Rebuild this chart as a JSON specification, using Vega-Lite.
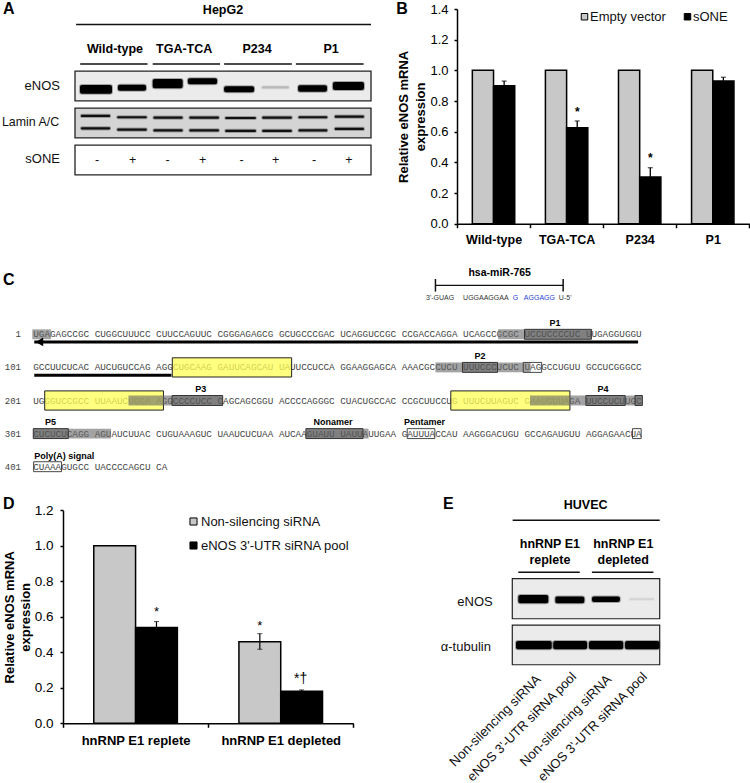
{
"$schema":"https://vega.github.io/schema/vega-lite/v6.json",
"background":"white","padding":0,"autosize":{"type":"pad"},
"config":{"font":"Liberation Sans","view":{"stroke":null},"axis":{"grid":false,"domainColor":"#000","tickColor":"#000","labelColor":"#000","titleColor":"#000"}},
"spacing":0,
"vconcat":[
{"hconcat":[
 {"width":457,"height":262,
  "encoding":{"x":{"field":"lane","type":"quantitative","scale":{"domain":[-2.027,10.324],"nice":false,"zero":false},"axis":null},
              "y":{"field":"row","type":"quantitative","scale":{"domain":[6.784,-0.297],"nice":false,"zero":false},"axis":null}},
  "layer":[
   {"data":{"values":[{"track":"eNOS","lane":0,"lane_to":8,"row":1.6,"row_to":2.4,"density":0.07},{"track":"Lamin A/C","lane":0,"lane_to":8,"row":2.6,"row_to":3.4,"density":0.15},{"track":"sONE","lane":0,"lane_to":8,"row":3.6,"row_to":4.4,"density":0}]},
    "mark":{"type":"rect","stroke":"#222","strokeWidth":1.3},
    "encoding":{"x2":{"field":"lane_to"},"y2":{"field":"row_to"},"color":{"field":"density","type":"quantitative","scale":{"domain":[0,1],"range":["#ffffff","#000000"]},"legend":null}}},
   {"data":{"values":[
     {"lane":0.135,"lane_to":1.0,"row":1.97,"row_to":2.21,"density":1},
     {"lane":1.16,"lane_to":1.92,"row":1.966,"row_to":2.126,"density":1},
     {"lane":2.1,"lane_to":2.91,"row":1.813,"row_to":2.063,"density":1},
     {"lane":3.05,"lane_to":3.84,"row":1.793,"row_to":1.953,"density":1},
     {"lane":4.03,"lane_to":4.84,"row":2.009,"row_to":2.169,"density":1},
     {"lane":5.05,"lane_to":5.78,"row":2.01,"row_to":2.07,"density":0.25},
     {"lane":6.03,"lane_to":6.81,"row":1.978,"row_to":2.158,"density":1},
     {"lane":6.97,"lane_to":7.81,"row":1.89,"row_to":2.11,"density":1},
     {"lane":0.16,"lane_to":0.95,"row":2.78,"row_to":2.84,"density":0.95},
     {"lane":1.14,"lane_to":1.94,"row":2.815,"row_to":2.875,"density":0.95},
     {"lane":2.12,"lane_to":2.91,"row":2.825,"row_to":2.885,"density":0.95},
     {"lane":3.09,"lane_to":3.89,"row":2.825,"row_to":2.885,"density":0.95},
     {"lane":4.06,"lane_to":4.89,"row":2.835,"row_to":2.895,"density":0.95},
     {"lane":5.06,"lane_to":5.86,"row":2.825,"row_to":2.885,"density":0.95},
     {"lane":6.04,"lane_to":6.82,"row":2.815,"row_to":2.875,"density":0.95},
     {"lane":7.02,"lane_to":7.81,"row":2.8,"row_to":2.86,"density":0.95},
     {"lane":0.16,"lane_to":0.95,"row":3.115,"row_to":3.175,"density":0.95},
     {"lane":1.14,"lane_to":1.94,"row":3.15,"row_to":3.21,"density":0.95},
     {"lane":2.12,"lane_to":2.91,"row":3.17,"row_to":3.23,"density":0.95},
     {"lane":3.09,"lane_to":3.89,"row":3.17,"row_to":3.23,"density":0.95},
     {"lane":4.06,"lane_to":4.89,"row":3.185,"row_to":3.245,"density":0.95},
     {"lane":5.06,"lane_to":5.86,"row":3.185,"row_to":3.245,"density":0.95},
     {"lane":6.04,"lane_to":6.82,"row":3.17,"row_to":3.23,"density":0.95},
     {"lane":7.02,"lane_to":7.81,"row":3.13,"row_to":3.19,"density":0.95}
    ]},
    "mark":{"type":"rect","cornerRadius":2,"strokeWidth":2,"strokeOpacity":0.3},
    "encoding":{"x2":{"field":"lane_to"},"y2":{"field":"row_to"},"color":{"field":"density","type":"quantitative","scale":{"domain":[0,1],"range":["#ffffff","#000000"]},"legend":null},"stroke":{"field":"density","type":"quantitative","scale":{"domain":[0,1],"range":["#ffffff","#000000"]},"legend":null}}},
   {"data":{"values":[{"lane":0.03,"lane_to":8,"row":0.34},{"lane":0.14,"lane_to":1.96,"row":1.405},{"lane":2.1,"lane_to":3.92,"row":1.405},{"lane":4.03,"lane_to":5.86,"row":1.405},{"lane":5.97,"lane_to":7.8,"row":1.405}]},
    "mark":{"type":"rule","color":"#111","strokeWidth":1.5},"encoding":{"x2":{"field":"lane_to"}}},
   {"data":{"values":[{"lane":4,"row":-0.06,"label":"HepG2"},{"lane":1.08,"row":1,"label":"Wild-type"},{"lane":2.95,"row":1,"label":"TGA-TCA"},{"lane":4.92,"row":1,"label":"P234"},{"lane":6.92,"row":1,"label":"P1"}]},
    "mark":{"type":"text","fontWeight":"bold","fontSize":12.5,"color":"#000","baseline":"middle"},"encoding":{"text":{"field":"label"}}},
   {"data":{"values":[{"lane":-0.405,"row":2,"label":"eNOS"},{"lane":-0.405,"row":3.98,"label":"sONE"}]},
    "mark":{"type":"text","fontSize":13,"color":"#111","align":"right","baseline":"middle"},"encoding":{"text":{"field":"label"}}},
   {"data":{"values":[{"lane":-0.43,"row":2.97,"label":"Lamin A/C"}]},
    "mark":{"type":"text","fontSize":12.4,"color":"#111","align":"right","baseline":"middle"},"encoding":{"text":{"field":"label"}}},
   {"data":{"values":[{"lane":0.6,"row":4,"sign":"-"},{"lane":1.56,"row":4,"sign":"+"},{"lane":2.5,"row":4,"sign":"-"},{"lane":3.45,"row":4,"sign":"+"},{"lane":4.5,"row":4,"sign":"-"},{"lane":5.42,"row":4,"sign":"+"},{"lane":6.46,"row":4,"sign":"-"},{"lane":7.4,"row":4,"sign":"+"}]},
    "mark":{"type":"text","fontSize":12.5,"color":"#111","baseline":"middle"},"encoding":{"text":{"field":"sign"}}},
   {"data":{"values":[{"lane":-1.946,"row":-0.081,"label":"A"},{"lane":8.68,"row":-0.081,"label":"B"}]},
    "mark":{"type":"text","fontWeight":"bold","fontSize":16,"color":"#000","align":"left","baseline":"middle"},"encoding":{"text":{"field":"label"}}}
  ]},
 {"width":292.3,"height":222.7,
  "encoding":{
     "x":{"field":"construct","type":"nominal","sort":null,"scale":{"paddingInner":0,"paddingOuter":0},
          "axis":{"title":null,"labelAngle":0,"labelFontWeight":"bold","labelFontSize":12.5,"labelPadding":6,"tickSize":4,"tickWidth":1.5,"domainWidth":1.5,"tickBand":"extent"}},
     "y":{"field":"value","type":"quantitative","scale":{"domain":[0,1.4],"range":[222.7,8],"nice":false},
          "axis":{"title":["Relative eNOS mRNA","expression"],"titleFontSize":13,"titleFontWeight":"bold","titleLineHeight":17,"titlePadding":2.5,"values":[0,0.2,0.4,0.6,0.8,1,1.2,1.4],"format":".1f","labelOverlap":false,"labelFontSize":13,"tickSize":3,"tickWidth":1.5,"domainWidth":1.5,"labelPadding":6}}},
  "layer":[
   {"data":{"values":[{"construct":"Wild-type","series":"Empty vector","value":1.0},{"construct":"TGA-TCA","series":"Empty vector","value":1.0},{"construct":"P234","series":"Empty vector","value":1.0},{"construct":"P1","series":"Empty vector","value":1.0}]},
    "mark":{"type":"bar","stroke":"#000","strokeWidth":1.5,"width":21.2,"xOffset":-10.6},
    "encoding":{"color":{"field":"series","type":"nominal","scale":{"domain":["Empty vector","sONE"],"range":["#c8c8c8","#000000"]},
        "legend":{"title":null,"orient":"none","legendX":121,"legendY":9,"direction":"horizontal","columns":2,"symbolType":"square","symbolSize":42,"symbolStrokeColor":"#222","symbolStrokeWidth":1,"labelFontSize":13,"labelColor":"#111","labelOffset":-1,"columnPadding":15}}}},
   {"data":{"name":"bs","values":[{"construct":"Wild-type","series":"sONE","value":0.9,"upper":0.93},{"construct":"TGA-TCA","series":"sONE","value":0.625,"upper":0.67},{"construct":"P234","series":"sONE","value":0.305,"upper":0.365},{"construct":"P1","series":"sONE","value":0.93,"upper":0.955}]},
    "mark":{"type":"bar","stroke":"#000","strokeWidth":1.5,"width":21.2,"xOffset":10.6},
    "encoding":{"color":{"field":"series","type":"nominal"}}},
   {"data":{"name":"bs"},"mark":{"type":"rule","color":"#000","strokeWidth":1.3,"xOffset":10.6},"encoding":{"y2":{"field":"upper"}}},
   {"data":{"name":"bs"},"mark":{"type":"tick","orient":"horizontal","color":"#000","size":5,"thickness":1.2,"xOffset":10.6},"encoding":{"y":{"field":"upper","type":"quantitative"}}},
   {"data":{"values":[{"construct":"TGA-TCA","value":0.74,"mark":"*"},{"construct":"P234","value":0.435,"mark":"*"}]},
    "mark":{"type":"text","fontSize":12,"fontWeight":"bold","color":"#000","baseline":"middle","dy":1.5,"xOffset":10.6},
    "encoding":{"text":{"field":"mark"}}}
  ]}
 ],"spacing":0,"bounds":"flush"},
{"width":750,"height":228,
 "encoding":{"x":{"field":"nt","type":"quantitative","scale":{"domain":[-5.42,116.73],"nice":false,"zero":false},"axis":null},
             "y":{"field":"line","type":"quantitative","scale":{"domain":[5.734,-1.154],"nice":false,"zero":false},"axis":null}},
 "layer":[
  {"data":{"values":[
   {"line":1,"nt":0,"label":"UGAGAGCCGC"},{"line":1,"nt":10,"label":"CUGGCUUUCC"},{"line":1,"nt":20,"label":"CUUCCAGUUC"},{"line":1,"nt":30,"label":"CGGGAGAGCG"},{"line":1,"nt":40,"label":"GCUGCCCGAC"},{"line":1,"nt":50,"label":"UCAGGUCCGC"},{"line":1,"nt":60,"label":"CCGACCAGGA"},{"line":1,"nt":70,"label":"UCAGCCGCGC"},{"line":1,"nt":80,"label":"UCCUCCCCUC"},{"line":1,"nt":90,"label":"UUGAGGUGGU"},
   {"line":2,"nt":0,"label":"GCCUUCUCAC"},{"line":2,"nt":10,"label":"AUCUGUCCAG"},{"line":2,"nt":20,"label":"AGGCUGCAAG"},{"line":2,"nt":30,"label":"GAUUCAGCAU"},{"line":2,"nt":40,"label":"UAUUCCUCCA"},{"line":2,"nt":50,"label":"GGAAGGAGCA"},{"line":2,"nt":60,"label":"AAACGCCUCU"},{"line":2,"nt":70,"label":"UUUCCCUCUC"},{"line":2,"nt":80,"label":"UAGGCCUGUU"},{"line":2,"nt":90,"label":"GCCUCGGGCC"},
   {"line":3,"nt":0,"label":"UGGGUCCGCC"},{"line":3,"nt":10,"label":"UUAAUCUGGA"},{"line":3,"nt":20,"label":"AGGCCCCUCC"},{"line":3,"nt":30,"label":"CAGCAGCGGU"},{"line":3,"nt":40,"label":"ACCCCAGGGC"},{"line":3,"nt":50,"label":"CUACUGCCAC"},{"line":3,"nt":60,"label":"CCGCUUCCUG"},{"line":3,"nt":70,"label":"UUUCUUAGUC"},{"line":3,"nt":80,"label":"GAAUGUUAGA"},{"line":3,"nt":90,"label":"UUCCUCUUGC"},
   {"line":4,"nt":0,"label":"CUCUCUCAGG"},{"line":4,"nt":10,"label":"AGUAUCUUAC"},{"line":4,"nt":20,"label":"CUGUAAAGUC"},{"line":4,"nt":30,"label":"UAAUCUCUAA"},{"line":4,"nt":40,"label":"AUCAAGUAUU"},{"line":4,"nt":50,"label":"UAUUAUUGAA"},{"line":4,"nt":60,"label":"GAUUUACCAU"},{"line":4,"nt":70,"label":"AAGGGACUGU"},{"line":4,"nt":80,"label":"GCCAGAUGUU"},{"line":4,"nt":90,"label":"AGGAGAACUA"},
   {"line":5,"nt":0,"label":"CUAAAGUGCC"},{"line":5,"nt":10,"label":"UACCCCAGCU"},{"line":5,"nt":20,"label":"CA"}]},
   "mark":{"type":"text","font":"Liberation Mono","fontSize":9.3,"color":"#444","align":"left","baseline":"middle"},"encoding":{"text":{"field":"label"}}},
  {"data":{"values":[{"line":1,"nt":-2,"label":"1"},{"line":2,"nt":-2,"label":"101"},{"line":3,"nt":-2,"label":"201"},{"line":4,"nt":-2,"label":"301"},{"line":5,"nt":-2,"label":"401"}]},
   "mark":{"type":"text","font":"Liberation Mono","fontSize":9,"color":"#444","align":"right","baseline":"middle"},"encoding":{"text":{"field":"label"}}},
  {"data":{"values":[{"line":1.71,"line_to":2.29,"nt":22.64,"nt_to":42.08},{"line":2.71,"line_to":3.29,"nt":1.86,"nt_to":21.2},{"line":2.71,"line_to":3.29,"nt":68.0,"nt_to":87.4}]},
   "mark":{"type":"rect","fill":"#ffff55","fillOpacity":0.75,"stroke":"#222","strokeWidth":1},"encoding":{"x2":{"field":"nt_to"},"y2":{"field":"line_to"}}},
  {"data":{"values":[{"line":0.85,"line_to":1.15,"nt":-0.16,"nt_to":2.88},{"line":0.85,"line_to":1.15,"nt":75.7,"nt_to":80},{"line":1.85,"line_to":2.15,"nt":65.5,"nt_to":69.9},{"line":1.85,"line_to":2.15,"nt":75.6,"nt_to":81},{"line":2.85,"line_to":3.15,"nt":15.5,"nt_to":22.6},{"line":2.85,"line_to":3.15,"nt":80.9,"nt_to":90},{"line":2.85,"line_to":3.15,"nt":96.4,"nt_to":98},{"line":3.85,"line_to":4.15,"nt":5.7,"nt_to":12.65},{"line":3.85,"line_to":4.15,"nt":53.7,"nt_to":54.6}]},
   "mark":{"type":"rect","fill":"#666","fillOpacity":0.6},"encoding":{"x2":{"field":"nt_to"},"y2":{"field":"line_to"}}},
  {"data":{"values":[{"line":0.85,"line_to":1.15,"nt":80,"nt_to":90.9},{"line":1.85,"line_to":2.15,"nt":69.9,"nt_to":75.6},{"line":2.85,"line_to":3.15,"nt":22.6,"nt_to":30.85},{"line":2.85,"line_to":3.15,"nt":90,"nt_to":96.4},{"line":2.85,"line_to":3.15,"nt":98,"nt_to":99.2},{"line":3.85,"line_to":4.15,"nt":0,"nt_to":5.7},{"line":3.85,"line_to":4.15,"nt":44.4,"nt_to":53.7}]},
   "mark":{"type":"rect","fill":"#555","fillOpacity":0.75,"stroke":"#333","strokeWidth":1},"encoding":{"x2":{"field":"nt_to"},"y2":{"field":"line_to"}}},
  {"data":{"values":[{"line":1.85,"line_to":2.15,"nt":79.8,"nt_to":82.8},{"line":3.85,"line_to":4.15,"nt":60.9,"nt_to":65.4},{"line":3.85,"line_to":4.15,"nt":97.6,"nt_to":99},{"line":4.85,"line_to":5.15,"nt":0.06,"nt_to":4.6}]},
   "mark":{"type":"rect","fillOpacity":0,"stroke":"#333","strokeWidth":0.9},"encoding":{"x2":{"field":"nt_to"},"y2":{"field":"line_to"}}},
  {"data":{"values":[{"line":1.23,"nt":0.16,"nt_to":98.5},{"line":2.234,"nt":0.16,"nt_to":22.5}]},
   "mark":{"type":"rule","color":"#000","strokeWidth":3},"encoding":{"x2":{"field":"nt_to"}}},
  {"data":{"values":[{"line":1.23,"nt":1.0}]},
   "mark":{"type":"point","shape":"triangle-left","filled":true,"color":"#000","opacity":1,"size":75}},
  {"data":{"values":[{"line":-0.48,"nt":65.5,"nt_to":86.3}]},
   "mark":{"type":"rule","color":"#111","strokeWidth":1.3},"encoding":{"x2":{"field":"nt_to"}}},
  {"data":{"values":[{"line":-0.67,"line_to":-0.29,"nt":65.5},{"line":-0.67,"line_to":-0.29,"nt":86.3}]},
   "mark":{"type":"rule","color":"#111","strokeWidth":1.5},"encoding":{"y2":{"field":"line_to"}}},
  {"data":{"values":[{"line":-0.088,"nt":63.96,"label":"3'-GUAG","tone":"plain"},{"line":-0.088,"nt":70.0,"label":"UGGAAGGAA","tone":"plain"},{"line":-0.088,"nt":78.1,"label":"G","tone":"seed"},{"line":-0.088,"nt":79.9,"label":"AGGAGG","tone":"seed"},{"line":-0.088,"nt":85.6,"label":"U-5'","tone":"plain"}]},
   "mark":{"type":"text","fontSize":7,"align":"left","baseline":"middle"},
   "encoding":{"text":{"field":"label"},"color":{"field":"tone","type":"nominal","scale":{"domain":["plain","seed"],"range":["#333333","#2a3fd8"]},"legend":null}}},
  {"data":{"values":[{"line":0.65,"nt":84.97,"label":"P1"},{"line":1.65,"nt":72.75,"label":"P2"},{"line":2.66,"nt":27.26,"label":"P3"},{"line":2.66,"nt":92.8,"label":"P4"},{"line":3.65,"nt":2.8,"label":"P5"},{"line":3.65,"nt":48.8,"label":"Nonamer"},{"line":3.65,"nt":63.7,"label":"Pentamer"},{"line":4.68,"nt":5.06,"label":"Poly(A) signal"}]},
   "mark":{"type":"text","fontSize":9,"fontWeight":"bold","color":"#000","baseline":"middle"},"encoding":{"text":{"field":"label"}}},
  {"data":{"values":[{"line":-0.84,"nt":75.96,"label":"hsa-miR-765"}]},
   "mark":{"type":"text","fontSize":10.5,"fontWeight":"bold","color":"#000","baseline":"middle"},"encoding":{"text":{"field":"label"}}},
  {"data":{"values":[{"line":-0.65,"nt":-4.93,"label":"C"}]},
   "mark":{"type":"text","fontSize":16,"fontWeight":"bold","color":"#000","align":"left","baseline":"middle"},"encoding":{"text":{"field":"label"}}}
 ]},
{"hconcat":[
 {"width":430,"height":232.3,
  "encoding":{
     "x":{"field":"condition","type":"nominal","sort":null,"scale":{"range":[63,353.3],"paddingInner":0,"paddingOuter":0},
          "axis":{"title":null,"labelAngle":0,"labelFontWeight":"bold","labelFontSize":13,"labelPadding":7,"tickSize":4,"tickWidth":1.5,"domainWidth":1.5,"tickBand":"extent"}},
     "y":{"field":"value","type":"quantitative","scale":{"domain":[0,1.2],"range":[232.3,19.3],"nice":false},
          "axis":{"offset":-63,"title":["Relative eNOS mRNA","expression"],"titleFontSize":13,"titleFontWeight":"bold","titleLineHeight":16,"titlePadding":2,"values":[0,0.2,0.4,0.6,0.8,1,1.2],"format":".1f","labelOverlap":false,"labelFontSize":13.5,"tickSize":3,"tickWidth":1.5,"domainWidth":1.5,"labelPadding":7}}},
  "layer":[
   {"data":{"name":"dg","values":[{"condition":"hnRNP E1 replete","series":"Non-silencing siRNA","value":1.0},{"condition":"hnRNP E1 depleted","series":"Non-silencing siRNA","value":0.46,"lower":0.417,"upper":0.505}]},
    "mark":{"type":"bar","stroke":"#000","strokeWidth":1.5,"width":41.8,"xOffset":-20.9},
    "encoding":{"color":{"field":"series","type":"nominal","scale":{"domain":["Non-silencing siRNA","eNOS 3'-UTR siRNA pool"],"range":["#c8c8c8","#000000"]},
        "legend":{"title":null,"orient":"none","legendX":187,"legendY":24,"symbolType":"square","symbolSize":50,"symbolStrokeColor":"#222","symbolStrokeWidth":1,"labelFontSize":13,"labelColor":"#111","labelOffset":1,"rowPadding":10}}}},
   {"data":{"name":"db","values":[{"condition":"hnRNP E1 replete","series":"eNOS 3'-UTR siRNA pool","value":0.54,"lower":0.54,"upper":0.573},{"condition":"hnRNP E1 depleted","series":"eNOS 3'-UTR siRNA pool","value":0.18,"lower":0.18,"upper":0.188}]},
    "mark":{"type":"bar","stroke":"#000","strokeWidth":1.5,"width":41.8,"xOffset":20.9},
    "encoding":{"color":{"field":"series","type":"nominal"}}},
   {"data":{"name":"dg"},"transform":[{"filter":"datum.upper != null"}],"mark":{"type":"rule","color":"#000","strokeWidth":1.2,"xOffset":-20.9},"encoding":{"y":{"field":"lower","type":"quantitative"},"y2":{"field":"upper"}}},
   {"data":{"name":"dg"},"transform":[{"filter":"datum.upper != null"}],"mark":{"type":"tick","orient":"horizontal","color":"#000","size":5,"thickness":1,"xOffset":-20.9},"encoding":{"y":{"field":"upper","type":"quantitative"}}},
   {"data":{"name":"dg"},"transform":[{"filter":"datum.upper != null"}],"mark":{"type":"tick","orient":"horizontal","color":"#000","size":5,"thickness":1,"xOffset":-20.9},"encoding":{"y":{"field":"lower","type":"quantitative"}}},
   {"data":{"name":"db"},"mark":{"type":"rule","color":"#000","strokeWidth":1.2,"xOffset":20.9},"encoding":{"y":{"field":"lower","type":"quantitative"},"y2":{"field":"upper"}}},
   {"data":{"name":"db"},"mark":{"type":"tick","orient":"horizontal","color":"#000","size":5,"thickness":1,"xOffset":20.9},"encoding":{"y":{"field":"upper","type":"quantitative"}}},
   {"data":{"values":[{"condition":"hnRNP E1 replete","value":0.633,"mark":"*"}]},
    "mark":{"type":"text","fontSize":13,"color":"#000","baseline":"middle","dy":1,"xOffset":20.9},"encoding":{"text":{"field":"mark"}}},
   {"data":{"values":[{"condition":"hnRNP E1 depleted","value":0.257,"mark":"*†"}]},
    "mark":{"type":"text","fontSize":14,"color":"#000","baseline":"middle","dy":1,"xOffset":20},"encoding":{"text":{"field":"mark"}}},
   {"data":{"values":[{"condition":"hnRNP E1 depleted","value":0.56,"mark":"*"}]},
    "mark":{"type":"text","fontSize":13,"color":"#000","baseline":"middle","dy":2,"xOffset":-20.9},"encoding":{"text":{"field":"mark"}}}
  ]},
 {"width":320,"height":293,
  "encoding":{"x":{"field":"lane","type":"quantitative","scale":{"domain":[-2.233,6.45],"nice":false,"zero":false},"axis":null},
              "y":{"field":"row","type":"quantitative","scale":{"domain":[6.0,-0.326],"nice":false,"zero":false},"axis":null}},
  "layer":[
   {"data":{"values":[{"lane":0,"lane_to":4,"row":1.568,"row_to":2.432,"density":0.07},{"lane":0,"lane_to":4,"row":2.568,"row_to":3.425,"density":0.07}]},
    "mark":{"type":"rect","stroke":"#222","strokeWidth":1.2},
    "encoding":{"x2":{"field":"lane_to"},"y2":{"field":"row_to"},"color":{"field":"density","type":"quantitative","scale":{"domain":[0,1],"range":["#ffffff","#000000"]},"legend":null}}},
   {"data":{"values":[
      {"lane":0.163,"lane_to":0.977,"row":1.92,"row_to":2.1,"density":1},
      {"lane":1.167,"lane_to":1.954,"row":1.95,"row_to":2.1,"density":1},
      {"lane":2.163,"lane_to":2.92,"row":1.95,"row_to":2.07,"density":1},
      {"lane":3.175,"lane_to":3.845,"row":1.99,"row_to":2.03,"density":0.15},
      {"lane":0.1,"lane_to":1.07,"row":2.91,"row_to":3.09,"density":1},
      {"lane":1.11,"lane_to":2.03,"row":2.91,"row_to":3.09,"density":1},
      {"lane":2.08,"lane_to":3.01,"row":2.91,"row_to":3.09,"density":1},
      {"lane":3.06,"lane_to":3.99,"row":2.91,"row_to":3.09,"density":1}]},
    "mark":{"type":"rect","cornerRadius":2,"strokeWidth":2,"strokeOpacity":0.3},
    "encoding":{"x2":{"field":"lane_to"},"y2":{"field":"row_to"},"color":{"field":"density","type":"quantitative","scale":{"domain":[0,1],"range":["#ffffff","#000000"]},"legend":null},"stroke":{"field":"density","type":"quantitative","scale":{"domain":[0,1],"range":["#ffffff","#000000"]},"legend":null}}},
   {"data":{"values":[{"lane":0.01,"lane_to":4,"row":0.307},{"lane":0.163,"lane_to":1.83,"row":1.43},{"lane":2.16,"lane_to":3.83,"row":1.43}]},
    "mark":{"type":"rule","color":"#111","strokeWidth":1.5},"encoding":{"x2":{"field":"lane_to"}}},
   {"data":{"values":[{"lane":1.99,"row":-0.024,"label":"HUVEC"},{"lane":1.02,"row":0.825,"label":"hnRNP E1"},{"lane":1.02,"row":1.164,"label":"replete"},{"lane":3.01,"row":0.825,"label":"hnRNP E1"},{"lane":3.01,"row":1.164,"label":"depleted"}]},
    "mark":{"type":"text","fontSize":12.5,"fontWeight":"bold","color":"#000","baseline":"middle"},"encoding":{"text":{"field":"label"}}},
   {"data":{"values":[{"lane":-0.53,"row":2.06,"label":"eNOS"},{"lane":-0.58,"row":3.04,"label":"α-tubulin"}]},
    "mark":{"type":"text","fontSize":13,"color":"#111","align":"right","baseline":"middle"},"encoding":{"text":{"field":"label"}}},
   {"data":{"values":[{"lane":0.72,"row":3.7,"label":"Non-silencing siRNA"},{"lane":2.63,"row":3.7,"label":"Non-silencing siRNA"}]},
    "mark":{"type":"text","fontSize":13.4,"color":"#111","angle":315,"align":"right","baseline":"middle"},"encoding":{"text":{"field":"label"}}},
   {"data":{"values":[{"lane":1.68,"row":3.64,"label":"eNOS 3'-UTR siRNA pool"},{"lane":3.6,"row":3.64,"label":"eNOS 3'-UTR siRNA pool"}]},
    "mark":{"type":"text","fontSize":13,"color":"#111","angle":315,"align":"right","baseline":"middle"},"encoding":{"text":{"field":"label"}}},
   {"data":{"values":[{"lane":-13.82,"row":-0.045,"label":"D"},{"lane":-1.88,"row":-0.045,"label":"E"}]},
    "mark":{"type":"text","fontSize":16,"fontWeight":"bold","color":"#000","align":"left","baseline":"middle"},"encoding":{"text":{"field":"label"}}}
  ]}
 ],"spacing":0,"bounds":"flush"}
]}
